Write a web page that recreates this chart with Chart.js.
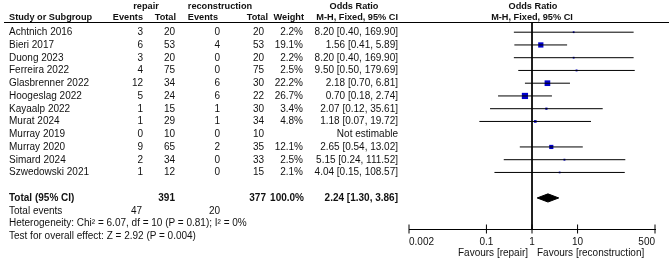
<!DOCTYPE html>
<html>
<head>
<meta charset="utf-8">
<script src="https://cdn.jsdelivr.net/npm/chart.js@4.4.1/dist/chart.umd.min.js"></script>
<style>
  body { margin: 0; background: #fff; }
  #wrap { position: relative; width: 669px; height: 258px; overflow: hidden;
          font-family: "Liberation Sans", Arial, sans-serif; font-size: 10px; color: #111; }
  #plot { position: absolute; left: 0; top: 0; }
  .t { position: absolute; line-height: 12px; white-space: nowrap; }
  .b { font-weight: bold; }
  .h { font-weight: bold; font-size: 9.2px; }
</style>
</head>
<body>
<div id="wrap">
  <canvas id="plot" width="669" height="258"></canvas>
</div>
<script>
// study data
var studies = ['Achtnich 2016', 'Bieri 2017', 'Duong 2023', 'Ferreira 2022', 'Glasbrenner 2022',
    'Hoogeslag 2022', 'Kayaalp 2022', 'Murat 2024', 'Murray 2019', 'Murray 2020',
    'Simard 2024', 'Szwedowski 2021'];
var repairEvents = [3, 6, 3, 4, 12, 5, 1, 1, 0, 9, 2, 1];
var repairTotal = [20, 53, 20, 75, 34, 24, 15, 29, 10, 65, 34, 12];
var reconEvents = [0, 4, 0, 0, 6, 6, 1, 1, 0, 2, 0, 0];
var reconTotal = [20, 53, 20, 75, 30, 22, 30, 34, 10, 35, 33, 15];
var weights = [2.2, 19.1, 2.2, 2.5, 22.2, 26.7, 3.4, 4.8, null, 12.1, 2.5, 2.1];
var oddsRatio = [8.20, 1.56, 8.20, 9.50, 2.18, 0.70, 2.07, 1.18, null, 2.65, 5.15, 4.04];
var ciLow = [0.40, 0.41, 0.40, 0.50, 0.70, 0.18, 0.12, 0.07, null, 0.54, 0.24, 0.15];
var ciHigh = [169.90, 5.89, 169.90, 179.69, 6.81, 2.74, 35.61, 19.72, null, 13.02, 111.52, 108.57];

// pooled result
var totalRepair = 391;
var totalRecon = 377;
var totalEventsRepair = 47;
var totalEventsRecon = 20;
var pooled = [2.24, 1.30, 3.86]; // OR, low, high

var xTicks = [0.002, 0.1, 1, 10, 500];
var xTickLabels = ['0.002', '0.1', '1', '10', '500'];

// layout
var rowTop = 32, rowStep = 12.75;
var areaTop = 22, areaBottom = 229;
var yMin = -0.8;
var yMax = yMin + (areaBottom - areaTop) / rowStep;
var totalRow = studies.length + 1;

function rowY(r) { return rowTop + rowStep * r; }

var wrap = document.getElementById('wrap');
function addText(txt, x, y, align, cls) {
    var d = document.createElement('div');
    d.className = 't' + (cls ? ' ' + cls : '');
    d.textContent = txt;
    d.style.top = (y - 6) + 'px';
    if (align == 'right') {
        d.style.right = (669 - x) + 'px';
    } else if (align == 'center') {
        d.style.left = (x - 100) + 'px';
        d.style.width = '200px';
        d.style.textAlign = 'center';
    } else {
        d.style.left = x + 'px';
    }
    wrap.appendChild(d);
}
function fmt(v) { return v.toFixed(2); }

// header
addText('repair', 146, 6, 'center', 'h');
addText('reconstruction', 220, 6, 'center', 'h');
addText('Odds Ratio', 354, 6, 'center', 'h');
addText('Odds Ratio', 533, 6, 'center', 'h');
addText('Study or Subgroup', 9, 17, 'left', 'h');
addText('Events', 143, 17, 'right', 'h');
addText('Total', 176, 17, 'right', 'h');
addText('Events', 218, 17, 'right', 'h');
addText('Total', 268, 17, 'right', 'h');
addText('Weight', 304, 17, 'right', 'h');
addText('M-H, Fixed, 95% CI', 398, 17, 'right', 'h');
addText('M-H, Fixed, 95% CI', 532, 17, 'center', 'h');
var rule = document.createElement('div');
rule.style.cssText = 'position:absolute;left:4px;top:' + areaTop + 'px;width:665px;height:1px;background:#000;';
wrap.appendChild(rule);

// study rows
for (var i = 0; i < studies.length; i++) {
    var y = rowY(i);
    addText(studies[i], 9, y, 'left');
    addText(String(repairEvents[i]), 143, y, 'right');
    addText(String(repairTotal[i]), 175, y, 'right');
    addText(String(reconEvents[i]), 220, y, 'right');
    addText(String(reconTotal[i]), 264, y, 'right');
    if (weights[i] != null) {
        addText(weights[i].toFixed(1) + '%', 303, y, 'right');
        addText(fmt(oddsRatio[i]) + ' [' + fmt(ciLow[i]) + ', ' + fmt(ciHigh[i]) + ']', 398, y, 'right');
    } else {
        addText('Not estimable', 398, y, 'right');
    }
}

// totals
addText('Total (95% CI)', 9, rowY(totalRow), 'left', 'b');
addText(String(totalRepair), 175, rowY(totalRow), 'right', 'b');
addText(String(totalRecon), 266, rowY(totalRow), 'right', 'b');
addText('100.0%', 304, rowY(totalRow), 'right', 'b');
addText(fmt(pooled[0]) + ' [' + fmt(pooled[1]) + ', ' + fmt(pooled[2]) + ']', 398, rowY(totalRow), 'right', 'b');
addText('Total events', 9, rowY(totalRow + 1), 'left');
addText(String(totalEventsRepair), 142, rowY(totalRow + 1), 'right');
addText(String(totalEventsRecon), 220, rowY(totalRow + 1), 'right');
addText('Heterogeneity: Chi\u00b2 = 6.07, df = 10 (P = 0.81); I\u00b2 = 0%', 9, rowY(totalRow + 2), 'left');
addText('Test for overall effect: Z = 2.92 (P = 0.004)', 9, rowY(totalRow + 3), 'left');

// chart datasets
var datasets = [];
for (var k = 0; k < studies.length; k++) {
    if (oddsRatio[k] == null) continue;
    datasets.push({
        data: [{x: ciLow[k], y: k}, {x: ciHigh[k], y: k}],
        borderColor: '#000', borderWidth: 1, pointRadius: 0
    });
}
var squarePts = [], squareSizes = [];
for (var k = 0; k < studies.length; k++) {
    if (oddsRatio[k] == null) continue;
    squarePts.push({x: oddsRatio[k], y: k});
    squareSizes.push(0.85 * Math.sqrt(weights[k]));
}
datasets.push({
    data: squarePts, showLine: false, pointStyle: 'rect',
    pointRadius: squareSizes, pointBackgroundColor: '#0000cc', pointBorderWidth: 0
});
// pooled diamond
var dh = 0.32;
datasets.push({
    data: [{x: pooled[1], y: totalRow}, {x: pooled[0], y: totalRow - dh},
           {x: pooled[2], y: totalRow}, {x: pooled[0], y: totalRow + dh},
           {x: pooled[1], y: totalRow}],
    borderColor: '#000', backgroundColor: '#000', borderWidth: 1, pointRadius: 0,
    fill: 'shape', tension: 0
});
// line of no effect
datasets.push({
    data: [{x: 1, y: yMin}, {x: 1, y: yMax}],
    borderColor: '#000', borderWidth: 1, pointRadius: 0
});
// cross ticks on axis
datasets.push({
    data: xTicks.map(function(v) { return {x: v, y: yMax}; }),
    showLine: false, pointStyle: 'line', pointRotation: 90, pointRadius: 4.5,
    pointBorderColor: '#000', pointBorderWidth: 1, clip: false
});

var favoursPlugin = {
    id: 'favours',
    afterDraw: function(chart) {
        var ctx = chart.ctx;
        var x1 = chart.scales.x.getPixelForValue(1);
        ctx.save();
        ctx.font = '10px "Liberation Sans", Arial, sans-serif';
        ctx.fillStyle = '#111';
        ctx.textBaseline = 'middle';
        ctx.textAlign = 'right';
        ctx.fillText('Favours [repair]', x1 - 4, 253);
        ctx.textAlign = 'left';
        ctx.fillText('Favours [reconstruction]', x1 + 5, 253);
        ctx.restore();
    }
};

var ctx = document.getElementById('plot');
var chart = new Chart(ctx, {
    type: 'line',
    data: { datasets: datasets },
    plugins: [favoursPlugin],
    options: {
        responsive: false,
        animation: false,
        events: [],
        layout: { padding: { left: 409, right: 14, top: areaTop, bottom: 0 } },
        plugins: { legend: { display: false }, tooltip: { enabled: false } },
        scales: {
            x: {
                type: 'logarithmic', position: 'bottom',
                min: xTicks[0], max: xTicks[xTicks.length - 1],
                afterBuildTicks: function(scale) {
                    scale.ticks = xTicks.map(function(v) { return {value: v}; });
                },
                afterFit: function(scale) { scale.height = 258 - areaBottom; },
                grid: { display: false, drawTicks: false },
                border: { display: true, color: '#000', width: 1 },
                ticks: {
                    autoSkip: false, maxRotation: 0, align: 'inner', padding: 7,
                    color: '#111', font: { family: '"Liberation Sans", Arial, sans-serif', size: 10 },
                    callback: function(v) {
                        var idx = xTicks.indexOf(v);
                        return idx >= 0 ? xTickLabels[idx] : '';
                    }
                }
            },
            y: {
                type: 'linear', display: false, reverse: true,
                min: yMin, max: yMax
            }
        }
    }
});
</script>
</body>
</html>
